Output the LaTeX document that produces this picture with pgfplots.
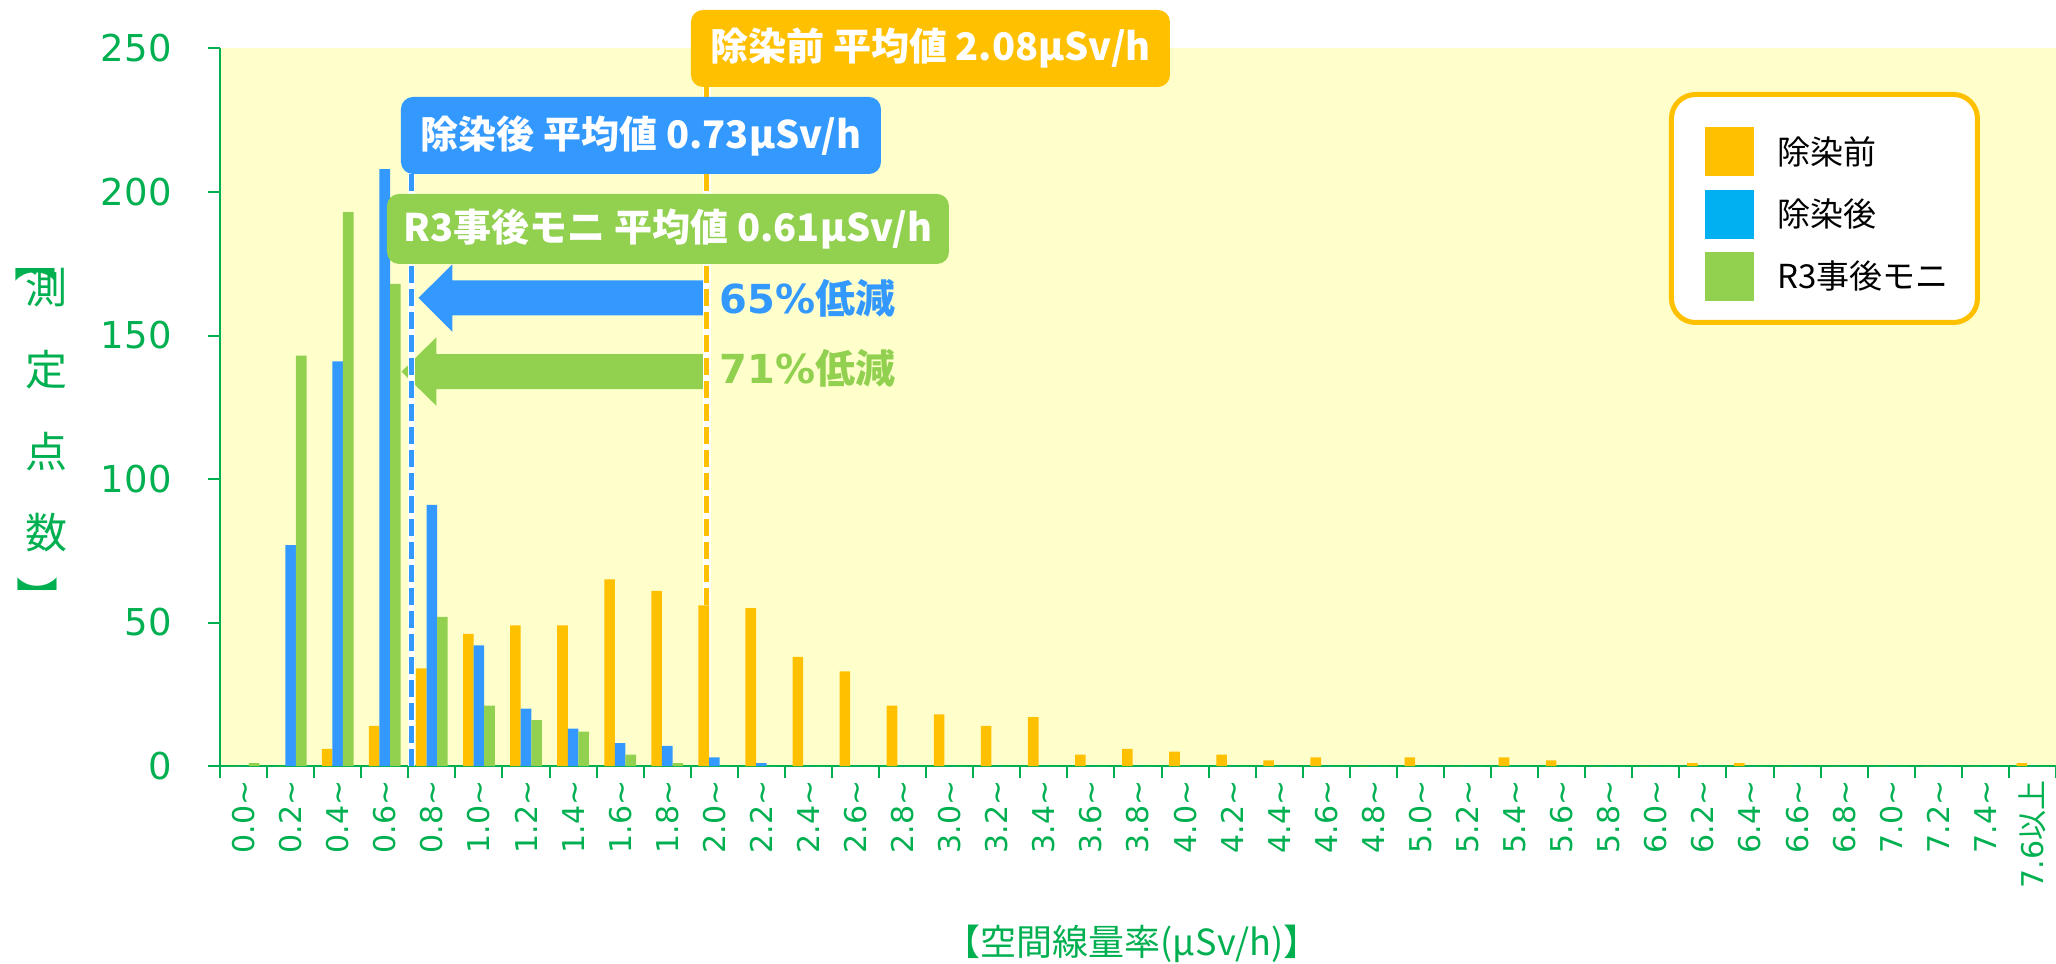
\documentclass[border=0pt]{standalone}
\usepackage{pgfplots}
\pgfplotsset{compat=1.18}
\usepackage{pgfplotstable}
\usepackage{fontspec}
\setmainfont{DejaVu Sans}
\newfontfamily\cjk{Noto Sans CJK JP}
\newcommand{\tl}{\textasciitilde}

\definecolor{cOrange}{HTML}{FFC000}
\definecolor{cBlue}{HTML}{3399FF}
\definecolor{cGreen}{HTML}{92D050}
\definecolor{cCyan}{HTML}{00B0F0}
\definecolor{cAxis}{HTML}{00B050}
\definecolor{cBg}{HTML}{FFFFCC}

% counts per 0.2 uSv/h class: before / after decontamination / R3 follow-up
\pgfplotstableread{
x  before after r3
0  0   0   1
1  0   77  143
2  6   141 193
3  14  208 168
4  34  91  52
5  46  42  21
6  49  20  16
7  49  13  12
8  65  8   4
9  61  7   1
10 56  3   0
11 55  1   0
12 38  0   0
13 33  0   0
14 21  0   0
15 18  0   0
16 14  0   0
17 17  0   0
18 4   0   0
19 6   0   0
20 5   0   0
21 4   0   0
22 2   0   0
23 3   0   0
24 0   0   0
25 3   0   0
26 0   0   0
27 3   0   0
28 2   0   0
29 0   0   0
30 0   0   0
31 1   0   0
32 1   0   0
33 0   0   0
34 0   0   0
35 0   0   0
36 0   0   0
37 0   0   0
38 1   0   0
}\hist

\begin{document}
\begin{tikzpicture}
\path[use as bounding box] (-110bp,-99bp) rectangle (918bp,383bp);
\begin{axis}[
    at={(0,0)}, anchor=south west,
    scale only axis, width=918bp, height=358.75bp,
    xmin=-0.5, xmax=38.5, ymin=0, ymax=250,
    ybar=0pt, bar width=5.3bp,
    axis x line*=bottom, axis y line*=left,
    axis line style={-, draw=cAxis, line width=1.4bp},
    axis background/.style={fill=cBg},
    tick align=outside, major tick length=6bp,
    tick style={draw=cAxis, line width=1bp},
    xtick={-0.5,0.5,...,38.5},
    x tick label as interval,
    xticklabels={0.0\tl,0.2\tl,0.4\tl,0.6\tl,0.8\tl,1.0\tl,1.2\tl,1.4\tl,1.6\tl,1.8\tl,
        2.0\tl,2.2\tl,2.4\tl,2.6\tl,2.8\tl,3.0\tl,3.2\tl,3.4\tl,3.6\tl,3.8\tl,
        4.0\tl,4.2\tl,4.4\tl,4.6\tl,4.8\tl,5.0\tl,5.2\tl,5.4\tl,5.6\tl,5.8\tl,
        6.0\tl,6.2\tl,6.4\tl,6.6\tl,6.8\tl,7.0\tl,7.2\tl,7.4\tl,7.6{\cjk 以上}},
    xticklabel style={rotate=90, anchor=east, inner sep=0pt, text=cAxis,
        font=\fontsize{15bp}{17bp}\selectfont},
    xticklabel shift=1bp,
    ytick={0,50,...,250},
    yticklabel style={inner sep=0pt, text=cAxis, font=\fontsize{18.5bp}{20bp}\selectfont,
        /pgf/number format/assume math mode=true},
    yticklabel shift=18bp,
    clip=false,
]
% reduction arrows
\fill[cBlue] (axis cs:9.797,169.2) -- (axis cs:4.436,169.2) -- (axis cs:4.436,174.8)
    -- (axis cs:3.716,163.1) -- (axis cs:4.436,151.3) -- (axis cs:4.436,157.0)
    -- (axis cs:9.797,157.0) -- cycle;
\fill[cGreen] (axis cs:9.775,143.5) -- (axis cs:4.097,143.5) -- (axis cs:4.097,149.4)
    -- (axis cs:3.356,137.4) -- (axis cs:4.097,125.5) -- (axis cs:4.097,131.3)
    -- (axis cs:9.775,131.3) -- cycle;
% mean lines
\draw[white, line width=3.8bp] (axis cs:9.839,0) -- (axis cs:9.839,245);
\draw[cOrange, line width=2.5bp, dash pattern=on 8.5bp off 3bp] (axis cs:9.839,0) -- (axis cs:9.839,245);
\draw[white, line width=3.8bp] (axis cs:3.568,0) -- (axis cs:3.568,215);
\draw[cBlue, line width=2.5bp, dash pattern=on 8.5bp off 3bp] (axis cs:3.568,0) -- (axis cs:3.568,215);

\addplot[fill=cOrange, draw=none] table[x=x, y=before] {\hist};
\addplot[fill=cBlue, draw=none] table[x=x, y=after] {\hist};
\addplot[fill=cGreen, draw=none] table[x=x, y=r3] {\hist};
\end{axis}

% annotations in image pixel units (origin top left)
\begin{scope}[shift={(-110bp,383bp)}, x=0.5bp, y=-0.5bp]
\fill[cOrange, rounded corners=6bp] (691,10) rectangle (1170,87);
\node[text=white, inner sep=0pt, font=\cjk\bfseries\fontsize{19bp}{22bp}\selectfont]
    at (930.5,48.5) {除染前 平均値 2.08μSv/h};
\fill[cBlue, rounded corners=6bp] (401,97) rectangle (881,174);
\node[text=white, inner sep=0pt, font=\cjk\bfseries\fontsize{19bp}{22bp}\selectfont]
    at (641,135.5) {除染後 平均値 0.73μSv/h};
\fill[cGreen, rounded corners=6bp] (387,194) rectangle (949,264);
\node[text=white, inner sep=0pt, font=\cjk\bfseries\fontsize{19bp}{22bp}\selectfont]
    at (668,229) {R3事後モニ 平均値 0.61μSv/h};

\node[anchor=west, inner sep=0pt, text=cBlue, font=\bfseries\fontsize{20bp}{22bp}\selectfont]
    at (719,298) {65\%{\cjk 低減}};
\node[anchor=west, inner sep=0pt, text=cGreen, font=\bfseries\fontsize{20bp}{22bp}\selectfont]
    at (719,368) {71\%{\cjk 低減}};

% legend
\draw[cOrange, line width=2.5bp, fill=white, rounded corners=12bp] (1671.5,94.5) rectangle (1977.5,322.5);
\fill[cOrange] (1705,127) rectangle (1754,176);
\fill[cCyan] (1705,190) rectangle (1754,239);
\fill[cGreen] (1705,252) rectangle (1754,301);
\begin{scope}[every node/.style={anchor=west, inner sep=0pt, font=\cjk\fontsize{16.5bp}{18bp}\selectfont}]
\node at (1777,151.5) {除染前};
\node at (1777,214.5) {除染後};
\node at (1777,276.5) {R3事後モニ};
\end{scope}

% axis titles
\begin{scope}[every node/.style={inner sep=0pt, text=cAxis, font=\cjk\fontsize{21bp}{22bp}\selectfont}]
\node[rotate=-90] at (35,262) {【};
\node at (47,288) {測};
\node at (47,370) {定};
\node at (47,451.5) {点};
\node at (47,533) {数};
\node[rotate=-90] at (37,598) {】};
\end{scope}
\node[inner sep=0pt, text=cAxis, font=\cjk\fontsize{18bp}{20bp}\selectfont]
    at (1132,944) {【空間線量率(μSv/h)】};
\end{scope}
\end{tikzpicture}
\end{document}
